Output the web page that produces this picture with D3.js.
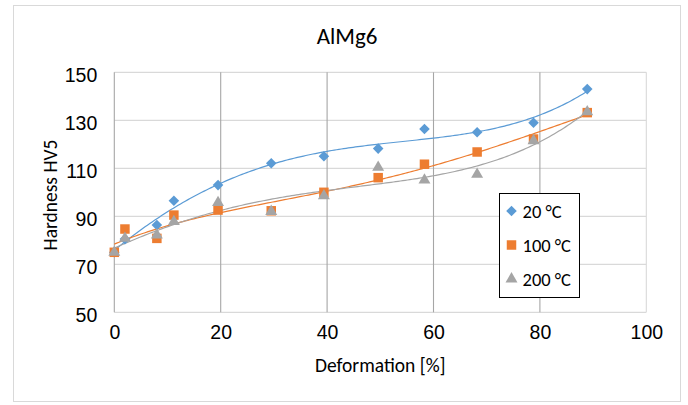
<!DOCTYPE html>
<html>
<head>
<meta charset="utf-8">
<script src="https://cdn.jsdelivr.net/npm/d3@7"></script>
<style>
  html, body { margin: 0; padding: 0; background: #fff; }
  svg { display: block; font-family: Carlito, Lato, "Open Sans", sans-serif; }
</style>
</head>
<body>
<svg id="chart" width="688" height="405"></svg>
<script>
// ---- data ----
const chartTitle = "AlMg6";
const xLabel = "Deformation [%]";
const yLabel = "Hardness HV5";
const xTicks = [0, 20, 40, 60, 80, 100];
const yTicks = [50, 70, 90, 110, 130, 150];
const seriesNames = ["20 °C", "100 °C", "200 °C"];
const deformation = [0, 2, 8, 11.2, 19.5, 29.5, 39.4, 49.6, 58.3, 68.2, 78.8, 88.9];
const hardness20 = [75, 80.5, 86.4, 96.5, 103, 112.1, 115, 118.2, 126.4, 125, 129, 143];
const hardness100 = [75, 84.7, 80.8, 90.5, 92.6, 92.3, 100, 106.1, 111.7, 116.8, 122.2, 133.2];
const hardness200 = [75, 80.8, 82.2, 87.8, 95.7, 92, 98.5, 110.4, 105.1, 107.5, 121.5, 133.5];
const trendOrder = [4, 4, 4];

const svg = d3.select("#chart");
const plot = { left: 114.3, right: 646.3, top: 72.3, bottom: 312.3 };
const colors = ["#5B9BD5", "#ED7D31", "#A5A5A5"];

// chart border
svg.append("rect").attr("x", 13.5).attr("y", 5.5).attr("width", 667).attr("height", 396)
  .attr("fill", "#fff").attr("stroke", "#d9d9d9").attr("stroke-width", 1);

const x = d3.scaleLinear().domain([0, 100]).range([plot.left, plot.right]);
const y = d3.scaleLinear().domain([50, 150]).range([plot.bottom, plot.top]);

// horizontal gridlines (light)
svg.append("g").selectAll("line").data(yTicks).join("line")
  .attr("x1", plot.left).attr("x2", plot.right)
  .attr("y1", d => y(d)).attr("y2", d => y(d))
  .attr("stroke", "#d9d9d9").attr("stroke-width", 1.3);
// vertical gridlines (dark, except last)
svg.append("g").selectAll("line").data(xTicks).join("line")
  .attr("x1", d => x(d)).attr("x2", d => x(d))
  .attr("y1", plot.top).attr("y2", plot.bottom)
  .attr("stroke", d => d === 100 ? "#d9d9d9" : "#a6a6a6").attr("stroke-width", 1.1);

const fs = 19.5;
// axes labels
const xAxis = d3.axisBottom(x).tickValues(xTicks).tickSize(0).tickPadding(13);
const gx = svg.append("g").attr("transform", `translate(0,${plot.bottom})`).call(xAxis);
gx.select(".domain").remove();
gx.selectAll("text").attr("font-size", fs).attr("fill", "#000").attr("font-family", null);

const yAxis = d3.axisLeft(y).tickValues(yTicks).tickSize(0).tickPadding(17);
const gy = svg.append("g").attr("transform", `translate(${plot.left},0)`).call(yAxis);
gy.select(".domain").remove();
gy.selectAll("text").attr("font-size", fs).attr("fill", "#000").attr("font-family", null).attr("dy", "0.45em");

svg.append("text").attr("x", 347).attr("y", 44).attr("text-anchor", "middle")
  .attr("font-size", 23).attr("fill", "#000").text(chartTitle);
svg.append("text").attr("x", (plot.left + plot.right) / 2).attr("y", 372).attr("text-anchor", "middle")
  .attr("font-size", fs).attr("fill", "#000").text(xLabel);
svg.append("text").attr("transform", `translate(57,195) rotate(-90)`).attr("text-anchor", "middle")
  .attr("font-size", fs).attr("fill", "#000").text(yLabel);

// polynomial least squares
function polyfit(xs, ys, order) {
  const s = 100;
  const n = order + 1;
  const A = Array.from({length: n}, () => new Array(n + 1).fill(0));
  xs.forEach((xv, i) => {
    const t = xv / s;
    const pw = [];
    for (let k = 0; k < 2 * n; k++) pw.push(Math.pow(t, k));
    for (let r = 0; r < n; r++) {
      for (let c = 0; c < n; c++) A[r][c] += pw[r + c];
      A[r][n] += pw[r] * ys[i];
    }
  });
  for (let c = 0; c < n; c++) {
    let p = c;
    for (let r = c + 1; r < n; r++) if (Math.abs(A[r][c]) > Math.abs(A[p][c])) p = r;
    [A[c], A[p]] = [A[p], A[c]];
    for (let r = 0; r < n; r++) {
      if (r === c) continue;
      const f = A[r][c] / A[c][c];
      for (let k = c; k <= n; k++) A[r][k] -= f * A[c][k];
    }
  }
  const coef = A.map((row, i) => row[n] / row[i]);
  return xv => coef.reduce((acc, a, k) => acc + a * Math.pow(xv / s, k), 0);
}

const allSeries = [hardness20, hardness100, hardness200];
const line = d3.line().x(d => x(d[0])).y(d => y(d[1]));
const xmin = d3.min(deformation), xmax = d3.max(deformation);
const samples = d3.range(0, 201).map(i => xmin + (xmax - xmin) * i / 200);

allSeries.forEach((vals, si) => {
  const f = polyfit(deformation, vals, trendOrder[si]);
  svg.append("path").datum(samples.map(t => [t, f(t)]))
    .attr("d", line).attr("fill", "none").attr("stroke", colors[si]).attr("stroke-width", 1.2);
});

// marker shapes: diamond (rotated square), square, triangle
const markerPath = [
  d3.symbol(d3.symbolSquare, 56)(),
  d3.symbol(d3.symbolSquare, 90)(),
  d3.symbol(d3.symbolTriangle, 62)()
];
const markerRot = [45, 0, 0];
allSeries.forEach((vals, si) => {
  svg.append("g").selectAll("path").data(vals.map((v, i) => [deformation[i], v])).join("path")
    .attr("transform", d => `translate(${x(d[0])},${y(d[1])}) rotate(${markerRot[si]})`)
    .attr("d", markerPath[si])
    .attr("fill", colors[si]);
});

// legend
const lg = svg.append("g");
lg.append("rect").attr("x", 499.5).attr("y", 193.5).attr("width", 80).attr("height", 104)
  .attr("fill", "#fff").attr("stroke", "#000").attr("stroke-width", 1);
const legY = [211, 245, 279];
seriesNames.forEach((nm, si) => {
  lg.append("path").attr("transform", `translate(511.5,${legY[si]}) rotate(${markerRot[si]})`)
    .attr("d", markerPath[si]).attr("fill", colors[si]);
  lg.append("text").attr("x", 522.5).attr("y", legY[si]).attr("dy", "0.36em")
    .attr("font-size", 18.5).attr("fill", "#000").text(nm);
});
</script>
</body>
</html>
